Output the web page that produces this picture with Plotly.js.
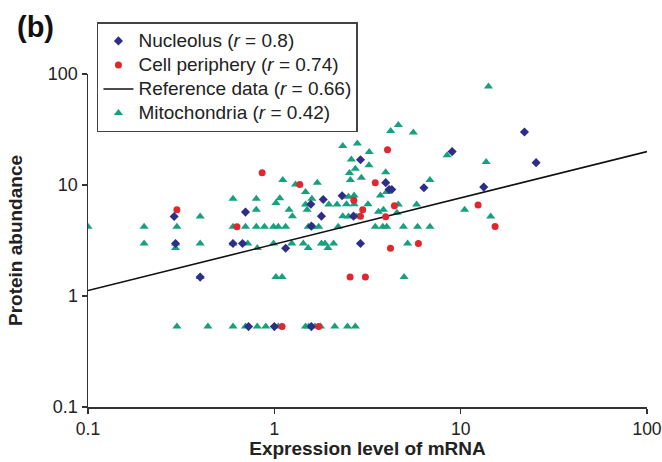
<!DOCTYPE html>
<html>
<head>
<meta charset="utf-8">
<script src="https://cdn.plot.ly/plotly-3.0.1.min.js"></script>
<style>html,body{margin:0;padding:0;background:#fff;}#chart{width:662px;height:462px;}</style>
</head>
<body>
<div id="chart"></div>
<script>
// Nucleolus (navy diamonds)
const nucX = [0.29, 0.70, 0.295, 0.60, 0.675, 0.40, 0.727, 1.0, 1.58, 22, 9.0, 2.90, 3.96, 4.13, 4.27, 6.35, 2.31, 1.83, 1.57, 2.66, 1.79, 1.58, 1.15, 2.90, 25.4, 13.3];
const nucY = [5.2, 5.7, 2.97, 2.97, 2.97, 1.48, 0.53, 0.53, 0.53, 30, 20, 16.9, 10.5, 9.1, 9.1, 9.46, 8.0, 7.41, 6.7, 5.24, 5.24, 4.26, 2.69, 2.97, 15.9, 9.57];

// Cell periphery (red circles)
const cellX = [0.86, 0.30, 0.63, 1.10, 1.73, 4.05, 1.37, 3.48, 2.67, 4.41, 2.98, 2.90, 3.96, 4.20, 5.93, 2.55, 3.08, 12.4, 15.3];
const cellY = [12.9, 6.0, 4.2, 0.53, 0.53, 20.8, 10.1, 10.5, 7.3, 6.5, 6.0, 5.24, 5.17, 2.69, 2.97, 1.48, 1.48, 6.6, 4.23];

// Reference data (regression line endpoints)
const refX = [0.1, 100];
const refY = [1.12, 20];

// Mitochondria (teal triangles)
const mitoX = [
  0.1, 0.60, 0.80, 1.02, 1.07, 0.80, 0.40,
  0.20, 0.30, 0.60, 0.70, 0.80, 0.885, 0.99, 1.05, 1.15, 1.52, 1.62, 1.73, 2.20, 3.48, 3.82, 4.01, 4.93, 5.87, 6.84,
  0.20, 0.295, 0.40, 0.60, 0.72, 0.99, 1.24, 1.43, 1.79, 1.87, 2.08, 5.19,
  0.295, 0.81, 1.52, 1.94,
  0.40, 1.02, 1.10, 4.97,
  0.30, 0.44, 0.60, 0.70, 0.81, 0.90, 1.05, 1.47, 1.53, 1.65, 1.77, 2.11, 2.47, 2.72,
  14.1, 4.21, 4.63, 5.57, 2.33, 2.79, 3.23, 8.46, 2.59, 3.22, 2.72, 2.53, 3.96, 2.93, 2.56, 1.11, 1.70, 1.30, 6.84,
  3.71, 4.0, 1.47, 2.50, 2.68, 1.59, 1.47, 1.96, 2.17, 2.44, 2.68, 3.18, 3.62, 3.85, 4.63, 5.80, 4.55,
  1.20, 1.25, 1.50, 2.33, 2.50, 2.76, 13.7, 10.5, 14.5
];
const mitoY = [
  4.2, 7.5, 7.5, 6.9, 7.6, 6.0, 5.2,
  4.2, 4.2, 4.2, 4.2, 4.2, 4.2, 4.2, 4.2, 4.2, 4.2, 4.2, 4.2, 4.2, 4.2, 4.2, 4.2, 4.2, 4.2, 4.2,
  2.97, 2.97, 2.97, 2.97, 2.97, 2.97, 2.97, 2.97, 2.97, 2.97, 2.97, 2.97,
  2.7, 2.7, 2.7, 2.7,
  1.48, 1.48, 1.48, 1.48,
  0.53, 0.53, 0.53, 0.53, 0.53, 0.53, 0.53, 0.53, 0.53, 0.53, 0.53, 0.53, 0.53, 0.53,
  77, 30.7, 34.8, 29.7, 22.5, 23.6, 19.8, 18.5, 17.0, 15.1, 14.0, 12.8, 13.0, 11.6, 11.1, 11.1, 10.5, 10.1, 11.1,
  8.05, 8.63, 8.63, 7.84, 8.05, 7.52, 6.68, 6.68, 6.68, 6.7, 6.7, 6.7, 5.74, 6.0, 6.68, 6.68, 5.62,
  6.0, 5.24, 6.0, 5.24, 5.2, 5.2, 16.1, 5.98, 5.2
];

const tickVals = [0.1, 1, 10, 100];
const tickText = ['0.1', '1', '10', '100'];

const FONT = 'Arial, "Liberation Sans", Helvetica, sans-serif';
const big = s => '<span style="font-size:19px">' + s + '</span>';

const traces = [
  {x: mitoX, y: mitoY, type: 'scatter', mode: 'markers', name: big('Mitochondria (<i>r</i> = 0.42)'), legendrank: 4,
   marker: {symbol: 'triangle-up', size: 8, color: '#16a07e'}},
  {x: refX, y: refY, type: 'scatter', mode: 'lines', name: big('Reference data (<i>r</i> = 0.66)'), legendrank: 3,
   line: {color: '#111', width: 1.6}},
  {x: cellX, y: cellY, type: 'scatter', mode: 'markers', name: big('Cell periphery (<i>r</i> = 0.74)'), legendrank: 2,
   marker: {symbol: 'circle', size: 7, color: '#e2262d'}},
  {x: nucX, y: nucY, type: 'scatter', mode: 'markers', name: big('Nucleolus (<i>r</i> = 0.8)'), legendrank: 1,
   marker: {symbol: 'diamond', size: 7, color: '#2b2f88'}}
];

const layout = {
  width: 662, height: 462,
  margin: {l: 88, r: 15, t: 74, b: 55},
  paper_bgcolor: '#fff', plot_bgcolor: '#fff',
  font: {family: FONT, size: 18, color: '#222'},
  showlegend: true,
  legend: {x: 0.016, xanchor: 'left', y: 1.155, yanchor: 'top', bgcolor: '#fff',
           bordercolor: '#444', borderwidth: 1.5, font: {family: FONT, size: 16.2, color: '#222'}},
  xaxis: {type: 'log', range: [-1, 2], tickvals: tickVals, ticktext: tickText,
          showgrid: false, zeroline: false, showline: true, linecolor: '#333', linewidth: 1.5,
          ticks: 'outside', ticklen: 5, tickwidth: 1.2, tickcolor: '#333', ticklabeloverflow: 'allow',
          tickfont: {family: FONT, size: 17.5, color: '#222'},
          title: {text: '<b>Expression level of mRNA</b>', font: {family: FONT, size: 19, color: '#222'}, standoff: 2}},
  yaxis: {type: 'log', range: [-1, 2], tickvals: tickVals, ticktext: tickText,
          showgrid: false, zeroline: false, showline: true, linecolor: '#333', linewidth: 1.5,
          ticks: 'outside', ticklen: 5, tickwidth: 1.2, tickcolor: '#333', ticklabeloverflow: 'allow',
          tickfont: {family: FONT, size: 18, color: '#222'},
          title: {text: '<b>Protein abundance</b>', font: {family: FONT, size: 19, color: '#222'}, standoff: 20}},
  annotations: [
    {text: '<b>(b)</b>', xref: 'paper', yref: 'paper', x: -0.13, y: 1.14, xanchor: 'left', yanchor: 'middle',
     showarrow: false, font: {family: FONT, size: 29, color: '#111'}}
  ]
};

Plotly.newPlot('chart', traces, layout, {displayModeBar: false, staticPlot: true});
</script>
</body>
</html>
